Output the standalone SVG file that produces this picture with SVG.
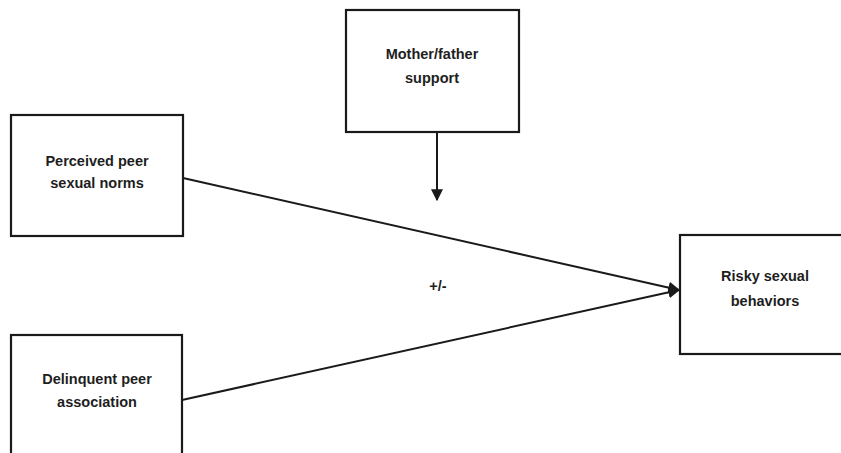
<svg xmlns="http://www.w3.org/2000/svg" width="841" height="453" viewBox="0 0 841 453">
<defs>
<style>
.box{fill:#fff;stroke:#1a1a1a;stroke-width:2.2}
.lbl{font-family:"Liberation Sans",Arial,sans-serif;font-weight:bold;font-size:14.5px;fill:#1e1e1e;text-anchor:middle}
.conn{stroke:#1a1a1a;stroke-width:2;fill:none}
</style>
<marker id="ah" viewBox="0 0 10 10" refX="9" refY="5" markerWidth="6" markerHeight="6" orient="auto" markerUnits="strokeWidth">
<path d="M0,0 L10,5 L0,10 z" fill="#1a1a1a"/>
</marker>
</defs>
<rect width="841" height="453" fill="#fff"/>
<g id="perceived">
<rect class="box" x="11" y="115" width="172" height="121"/>
<text class="lbl" x="97" y="166">Perceived peer</text>
<text class="lbl" x="97" y="188">sexual norms</text>
</g>
<g id="mother">
<rect class="box" x="346" y="10" width="173" height="122"/>
<text class="lbl" x="432" y="59">Mother/father</text>
<text class="lbl" x="432" y="83">support</text>
</g>
<g id="delinquent">
<rect class="box" x="11" y="335" width="171" height="130"/>
<text class="lbl" x="97" y="384">Delinquent peer</text>
<text class="lbl" x="97" y="407">association</text>
</g>
<g id="risky">
<rect class="box" x="680" y="235" width="175" height="119"/>
<text class="lbl" x="765" y="281">Risky sexual</text>
<text class="lbl" x="765" y="306">behaviors</text>
</g>
<g id="connectors">
<line class="conn" x1="437" y1="132" x2="437" y2="200" marker-end="url(#ah)"/>
<line class="conn" x1="183" y1="178" x2="679" y2="290" marker-end="url(#ah)"/>
<line class="conn" x1="182" y1="400" x2="679" y2="290" marker-end="url(#ah)"/>
<text class="lbl" x="438" y="291">+/-</text>
</g>
</svg>
